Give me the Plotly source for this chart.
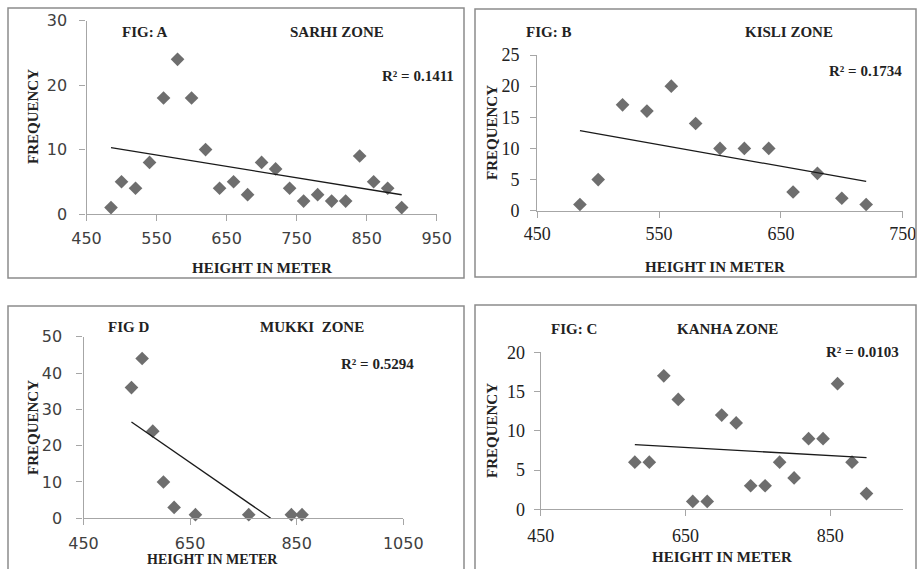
import numpy as np
import plotly.graph_objects as go

W, H = 917, 569

# ---------------- data ----------------
a_height = [485, 500, 520, 540, 560, 580, 600, 620, 640, 660, 680, 700, 720, 740, 760, 780, 800, 820, 840, 860, 880, 900]
a_freq = [1, 5, 4, 8, 18, 24, 18, 10, 4, 5, 3, 8, 7, 4, 2, 3, 2, 2, 9, 5, 4, 1]

b_height = [485, 500, 520, 540, 560, 580, 600, 620, 640, 660, 680, 700, 720]
b_freq = [1, 5, 17, 16, 20, 14, 10, 10, 10, 3, 6, 2, 1]

c_height = [580, 600, 620, 640, 660, 680, 700, 720, 740, 760, 780, 800, 820, 840, 860, 880, 900]
c_freq = [6, 6, 17, 14, 1, 1, 12, 11, 3, 3, 6, 4, 9, 9, 16, 6, 2]

d_height = [540, 560, 580, 600, 620, 660, 760, 840, 860]
d_freq = [36, 44, 24, 10, 3, 1, 1, 1, 1]

fig_labels = ["FIG: A", "FIG: B", "FIG: C", "FIG D"]
zone_labels = ["SARHI ZONE", "KISLI ZONE", "KANHA ZONE", "MUKKI  ZONE"]
r2_labels = ["R² = 0.1411", "R² = 0.1734", "R² = 0.0103", "R² = 0.5294"]
x_title = "HEIGHT IN METER"
y_title = "FREQUENCY"

# ---------------- helpers ----------------
def px(x):
    return x / W

def py(y):
    return 1 - y / H

MARK = "#6e6e6e"
AXC = "#a6a6a6"
SERIF = "Liberation Serif"
SANS = "DejaVu Sans"

panels = [
    dict(x=a_height, y=a_freq, xd=(86.5, 436.7), yd=(20.7, 214), xr=[450, 950], xt=100, yr=[0, 30], yt=10,
         font=SANS, fsize=16, fcol="#404040", xs=4, ys=9),
    dict(x=b_height, y=b_freq, xd=(537.3, 902.7), yd=(55, 210.7), xr=[450, 750], xt=100, yr=[0, 25], yt=5,
         font=SERIF, fsize=18, fcol="#222222", xs=1, ys=7),
    dict(x=c_height, y=c_freq, xd=(540.7, 902.7), yd=(352.3, 509.3), xr=[450, 950], xt=200, yr=[0, 20], yt=5,
         font=SERIF, fsize=18, fcol="#222222", xs=4, ys=5),
    dict(x=d_height, y=d_freq, xd=(83.5, 403.3), yd=(336.7, 518.3), xr=[450, 1050], xt=200, yr=[0, 50], yt=10,
         font=SANS, fsize=16, fcol="#404040", xs=4, ys=11),
]

fig = go.Figure()
layout = dict(width=W, height=H, margin=dict(l=0, r=0, t=0, b=0, pad=0, autoexpand=False),
              paper_bgcolor="white", plot_bgcolor="white", showlegend=False, template="none")

for i, p in enumerate(panels):
    k = "" if i == 0 else str(i + 1)
    xa, ya = "x" + k, "y" + k
    fig.add_trace(go.Scatter(x=p["x"], y=p["y"], mode="markers", xaxis=xa, yaxis=ya,
                             marker=dict(symbol="diamond", size=10.5, color=MARK, line=dict(width=0)),
                             cliponaxis=False, hoverinfo="skip"))
    # linear trend line fitted to the data (clipped at y = 0 like Excel)
    xs = np.array(p["x"], dtype=float)
    ys = np.array(p["y"], dtype=float)
    m, b = np.polyfit(xs, ys, 1)
    x0, x1 = xs.min(), xs.max()
    if m * x1 + b < 0:
        x1 = -b / m
    fig.add_trace(go.Scatter(x=[x0, x1], y=[m * x0 + b, m * x1 + b], mode="lines", xaxis=xa, yaxis=ya,
                             line=dict(color="#1a1a1a", width=1.3), hoverinfo="skip"))
    tickfont = dict(family=p["font"], size=p["fsize"], color=p["fcol"])
    common = dict(showgrid=False, zeroline=False, showline=True, automargin=False,
                  linecolor=AXC, linewidth=1.3, ticks="outside", ticklen=6, tickcolor=AXC,
                  tickwidth=1.3, tickfont=tickfont, fixedrange=True)
    layout["xaxis" + k] = dict(domain=[px(p["xd"][0]), px(p["xd"][1])], range=p["xr"], dtick=p["xt"],
                               tick0=450, anchor=ya, ticklabelstandoff=p["xs"], **common)
    layout["yaxis" + k] = dict(domain=[py(p["yd"][1]), py(p["yd"][0])], range=p["yr"], dtick=p["yt"],
                               tick0=0, anchor=xa, ticklabelstandoff=p["ys"], **common)

fig.update_layout(**layout)

# ---------------- panel borders ----------------
boxes = [(8, 8, 464, 278), (475, 9, 916, 277), (8, 306, 464, 575), (475, 305, 916, 575)]
for (x0, y0, x1, y1) in boxes:
    fig.add_shape(type="rect", xref="paper", yref="paper", x0=px(x0), x1=px(x1), y0=py(y1), y1=py(y0),
                  line=dict(color="#8c8c8c", width=1.5), fillcolor="rgba(0,0,0,0)")

# ---------------- text ----------------
def note(text, x, y, angle=0, size=15):
    fig.add_annotation(text="<b>" + text + "</b>", x=px(x), y=py(y), xref="paper", yref="paper",
                       showarrow=False, textangle=angle, xanchor="center", yanchor="middle",
                       font=dict(family=SERIF, size=size, color="#222222"))

# A
note(fig_labels[0], 145, 32)
note(zone_labels[0], 337, 32)
note(r2_labels[0], 418, 76)
note(y_title, 33, 117, -90)
note(x_title, 261.5, 268)
# B
note(fig_labels[1], 548, 32)
note(zone_labels[1], 789, 32)
note(r2_labels[1], 865, 71)
note(y_title, 492, 133, -90)
note(x_title, 715, 267)
# C
note(fig_labels[2], 574, 329)
note(zone_labels[2], 727, 329)
note(r2_labels[2], 862, 352)
note(y_title, 492, 431, -90)
note(x_title, 722, 557)
# D
note(fig_labels[3], 128, 327)
note(zone_labels[3], 312, 327)
note(r2_labels[3], 377, 364)
note(y_title, 33, 428, -90)
note(x_title, 212, 559, size=14)

fig.write_html("out.html", config={"displayModeBar": False},
               post_script="document.body.style.margin='0';document.body.style.overflow='hidden';")
